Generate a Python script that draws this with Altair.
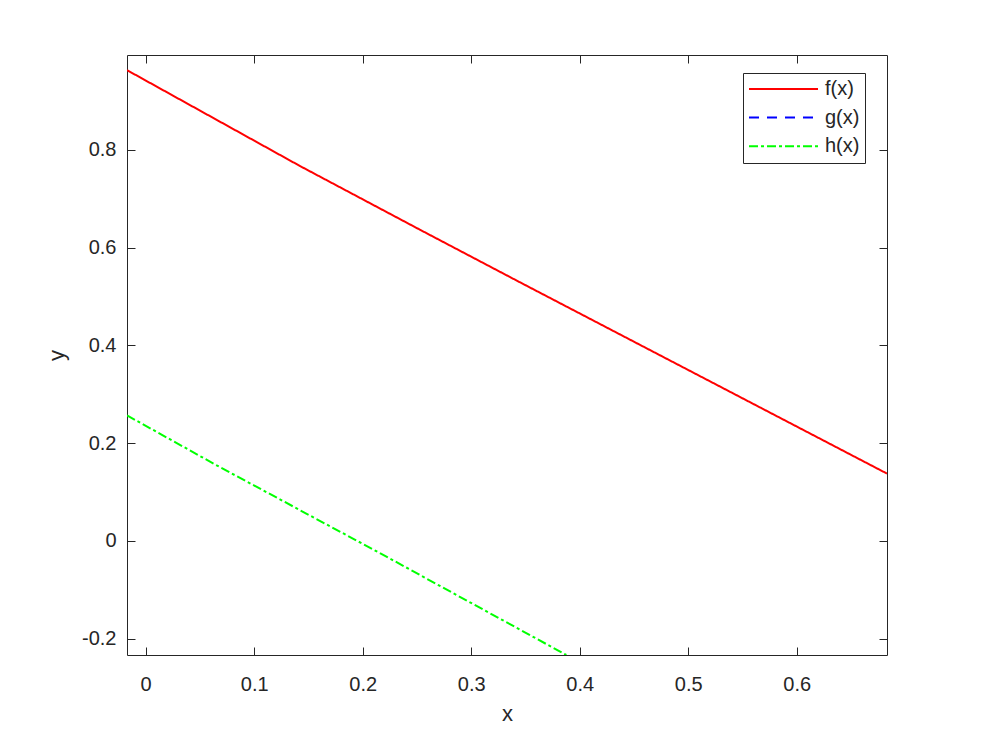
import altair as alt
import pandas as pd

# ---- data ----
f_x = [-0.0172, 0.1419, 0.2525, 0.3447, 0.6832]
f_y = [0.963, 0.7672, 0.6368, 0.5292, 0.1375]
h_x = [-0.0172, 0.0682, 0.2157, 0.3877]
h_y = [0.2566, 0.1510, -0.0250, -0.2337]

series = ["f(x)", "g(x)", "h(x)"]
colors = ["#ff0000", "#0000ff", "#00ff00"]
dashes = [[1, 0], [10, 8], [9, 3, 3, 3]]

x_ticks = [0, 0.1, 0.2, 0.3, 0.4, 0.5, 0.6]
y_ticks = [-0.2, 0, 0.2, 0.4, 0.6, 0.8]
x_domain = [-0.0172, 0.6832]
y_domain = [-0.2337, 0.994]

df = pd.concat([
    pd.DataFrame({"x": f_x, "y": f_y, "series": "f(x)"}),
    pd.DataFrame({"x": h_x, "y": h_y, "series": "h(x)"}),
], ignore_index=True)

ink = "#262626"
font = "Liberation Sans"

xs = alt.Scale(domain=x_domain, nice=False, zero=False)
ys = alt.Scale(domain=y_domain, nice=False, zero=False)

legend = alt.Legend(
    title=None, orient="none", legendX=616, legendY=18, direction="vertical",
    symbolType="stroke", symbolSize=4761, symbolStrokeWidth=2,
    clipHeight=22, rowPadding=6.6, padding=5, labelOffset=6,
    labelFontSize=20, labelFont=font, labelColor=ink,
    strokeColor=ink, fillColor="white",
)

lines = alt.Chart(df).mark_line(strokeWidth=2, clip=True).encode(
    x=alt.X("x:Q", scale=xs, axis=alt.Axis(
        orient="bottom", values=x_ticks, title="x", offset=-8, tickSize=8,
        domain=False, grid=False, labelExpr="toString(datum.value)",
        labelPadding=19, titlePadding=9)),
    y=alt.Y("y:Q", scale=ys, axis=alt.Axis(
        orient="left", values=y_ticks, title="y", offset=-8, tickSize=8,
        domain=False, grid=False, labelExpr="toString(datum.value)",
        labelPadding=11, titlePadding=13)),
    color=alt.Color("series:N", scale=alt.Scale(domain=series, range=colors), legend=legend),
    strokeDash=alt.StrokeDash("series:N", scale=alt.Scale(domain=series, range=dashes), legend=legend),
    order=alt.Order("x:Q"),
)

mirror = alt.Chart(df).mark_line(opacity=0).encode(
    x=alt.X("x:Q", scale=xs, axis=alt.Axis(
        orient="top", values=x_ticks, title=None, labels=False, offset=-8,
        tickSize=8, domain=False, grid=False)),
    y=alt.Y("y:Q", scale=ys, axis=alt.Axis(
        orient="right", values=y_ticks, title=None, labels=False, offset=-8,
        tickSize=8, domain=False, grid=False)),
    detail="series:N",
)

chart = alt.layer(lines, mirror).resolve_axis(
    x="independent", y="independent"
).properties(
    width=760, height=600,
    autosize=alt.AutoSizeParams(type="none"),
    padding={"left": 119, "top": 47, "right": 86, "bottom": 73},
    background="white",
).configure_view(
    stroke=ink, strokeWidth=1
).configure_axis(
    labelFont=font, titleFont=font, labelFontSize=20, titleFontSize=22,
    titleFontWeight="normal", labelColor=ink, titleColor=ink,
    tickColor=ink, tickWidth=1,
)

chart.save("out.html", embed_options={"renderer": "svg", "actions": False})
